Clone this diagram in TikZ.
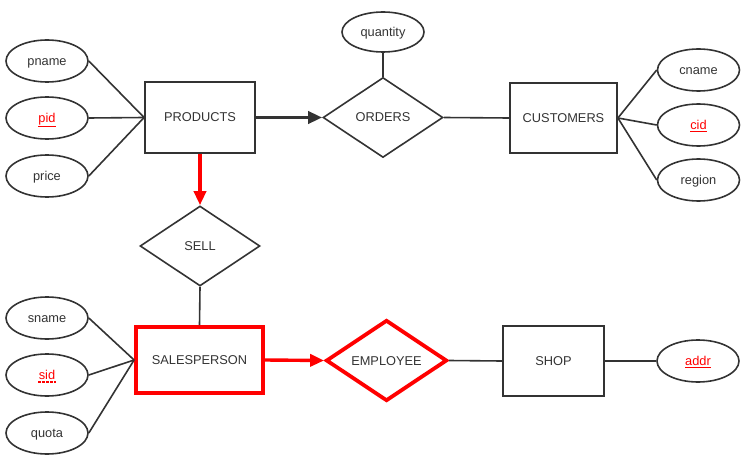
\documentclass[tikz,border=0pt]{standalone}
\usepackage{fontspec}
\setmainfont{Liberation Sans}
\usetikzlibrary{shapes.geometric,arrows.meta}
\definecolor{ink}{HTML}{333333}
\definecolor{hot}{HTML}{FF0000}
\newcommand{\keyul}[1]{\textcolor{hot}{\underline{#1}}}
\begin{document}
\begin{tikzpicture}[x=1pt,y=-1pt,
  every node/.style={font=\fontsize{12.8}{14}\selectfont, text=ink, text height=9pt, text depth=0pt},
  attr/.style={ellipse, draw=ink, line width=1.6pt, minimum width=82pt, minimum height=42pt, inner sep=0pt},
  ent/.style={rectangle, draw=ink, line width=1.8pt, inner sep=0pt},
  rel/.style={diamond, draw=ink, line width=1.6pt, aspect=1.5, inner sep=0pt, minimum width=120pt, minimum height=80pt},
  link/.style={draw=ink, line width=1.6pt},
  bigarrow/.style={line width=3.4pt, -{Triangle[length=14pt,width=12pt]}}
]
\useasboundingbox (0,0) rectangle (751,465);
% entities
\node[ent, minimum width=110pt, minimum height=71pt] (products) at (200,117.5) {PRODUCTS};
\node[ent, minimum width=107pt, minimum height=70pt] (customers) at (563.5,118) {CUSTOMERS};
\node[ent, minimum width=101pt, minimum height=70pt] (shop) at (553.5,361) {SHOP};
\node[ent, draw=hot, line width=3.8pt, minimum width=127pt, minimum height=66pt] (sales) at (199.5,360) {SALESPERSON};
% relationships
\node[rel] (orders) at (383,117.5) {ORDERS};
\node[rel] (sell) at (200,246) {SELL};
\node[rel, draw=hot, line width=3.8pt, minimum width=121pt, minimum height=81pt] (employee) at (386.5,360.5) {EMPLOYEE};
% attributes
\node[attr] (pname) at (47,61) {pname};
\node[attr] (pid) at (47,118) {\keyul{pid}};
\node[attr] (price) at (47,176) {price};
\node[attr, minimum height=40pt] (quantity) at (383,32) {quantity};
\node[attr] (cname) at (698.5,70) {cname};
\node[attr] (cid) at (698.5,125) {\keyul{cid}};
\node[attr] (region) at (698.5,180) {region};
\node[attr] (sname) at (47,318) {sname};
\node[attr] (sid) at (47,375) {\textcolor{hot}{sid}};
\node[attr] (quota) at (47,433) {quota};
\node[attr] (addr) at (698,361) {\keyul{addr}};
% dashed underline for sid
\draw[hot, line width=1.2pt, dash pattern=on 2.5pt off 1.5pt] ([xshift=-9pt,yshift=-7pt]sid.center) -- ([xshift=9pt,yshift=-7pt]sid.center);
% connectors
\draw[link] (pname.east) -- (products.west);
\draw[link] (pid.east) -- (products.west);
\draw[link] (price.east) -- (products.west);
\draw[link] (quantity.south) -- (orders.north);
\draw[link] (orders.east) -- (customers.west);
\draw[link] (customers.east) -- (cname.west);
\draw[link] (customers.east) -- (cid.west);
\draw[link] (customers.east) -- (region.west);
\draw[link] (sell.south) -- (sales.north);
\draw[link] (sname.east) -- (sales.west);
\draw[link] (sid.east) -- (sales.west);
\draw[link] (quota.east) -- (sales.west);
\draw[link] (employee.east) -- (shop.west);
\draw[link] (shop.east) -- (addr.west);
\draw[bigarrow, draw=ink, fill=ink] (products.east) -- (orders.west);
\draw[bigarrow, draw=hot, fill=hot] (products.south) -- (sell.north);
\draw[bigarrow, draw=hot, fill=hot] (sales.east) -- (employee.west);
\end{tikzpicture}
\end{document}
